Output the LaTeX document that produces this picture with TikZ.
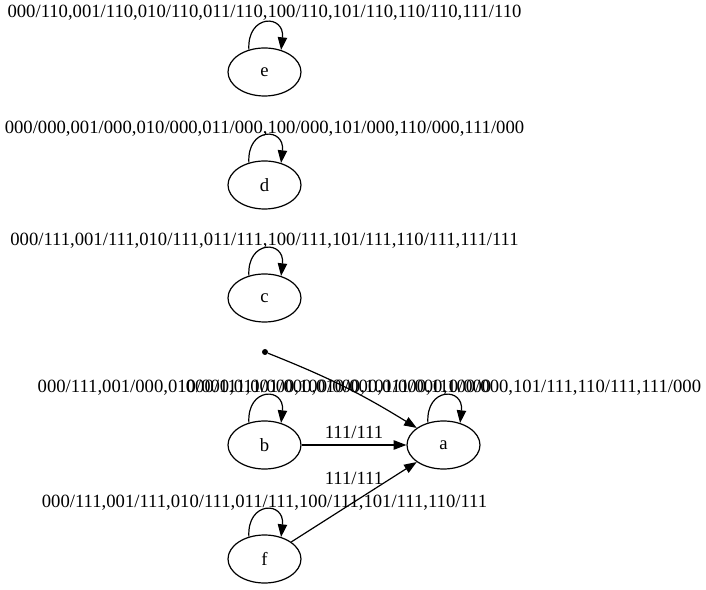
\documentclass[tikz,border=0pt]{standalone}
\usepackage{fontspec}
\setmainfont{Liberation Serif}
\usetikzlibrary{arrows.meta,shapes.geometric}

\begin{document}
\begin{tikzpicture}[x=0.75pt,y=0.75pt,
  state/.style={draw, ellipse, line width=0.9pt, minimum width=54.75pt, minimum height=36pt, inner sep=0pt, font=\fontsize{14pt}{16pt}\selectfont},
  lbl/.style={inner sep=0pt, font=\fontsize{14pt}{16pt}\selectfont},
  arr/.style={line width=0.9pt, -{Triangle[length=9.5pt,width=7pt]}}]
  \useasboundingbox (0,0) rectangle (706,589);
  \node[state] (e) at (264.5,517) {e};
  \node[state] (d) at (264.5,404) {d};
  \node[state] (c) at (264.5,291) {c};
  \node[state] (b) at (264.5,144) {b};
  \node[state] (a) at (443.5,144) {a};
  \node[state] (f) at (264.5,30) {f};
  \node[circle, fill, inner sep=0pt, minimum size=4.5pt] (start) at (265,237) {};
  \node[lbl] (le) at (264.5,576) {000/110,001/110,010/110,011/110,100/110,101/110,110/110,111/110};
  \node[lbl] (ld) at (264.5,460) {000/000,001/000,010/000,011/000,100/000,101/000,110/000,111/000};
  \node[lbl] (lc) at (264.5,348) {000/111,001/111,010/111,011/111,100/111,101/111,110/111,111/111};
  \node[lbl] (lb) at (264.5,201) {000/111,001/000,010/000,011/000,100/000,101/000,110/000};
  \node[lbl] (la) at (443.5,201) {000/111,001/000,010/000,011/000,100/000,101/111,110/111,111/000};
  \node[lbl] (lf) at (264.5,86) {000/111,001/111,010/111,011/111,100/111,101/111,110/111};
  \draw[arr] (e.125) .. controls +(-2,36) and +(4,36) .. (e.53);
  \draw[arr] (d.125) .. controls +(-2,36) and +(4,36) .. (d.53);
  \draw[arr] (c.125) .. controls +(-2,36) and +(4,36) .. (c.53);
  \draw[arr] (b.125) .. controls +(-2,36) and +(4,36) .. (b.53);
  \draw[arr] (a.125) .. controls +(-2,36) and +(4,36) .. (a.53);
  \draw[arr] (f.125) .. controls +(-2,36) and +(4,36) .. (f.53);
  \draw[arr] (start) to[bend left=5] (a);
  \draw[arr] (b) -- node[lbl, above=4pt] {111/111} (a);
  \draw[arr] (f) -- node[lbl, midway, yshift=18pt] {111/111} (a);
\end{tikzpicture}
\end{document}
